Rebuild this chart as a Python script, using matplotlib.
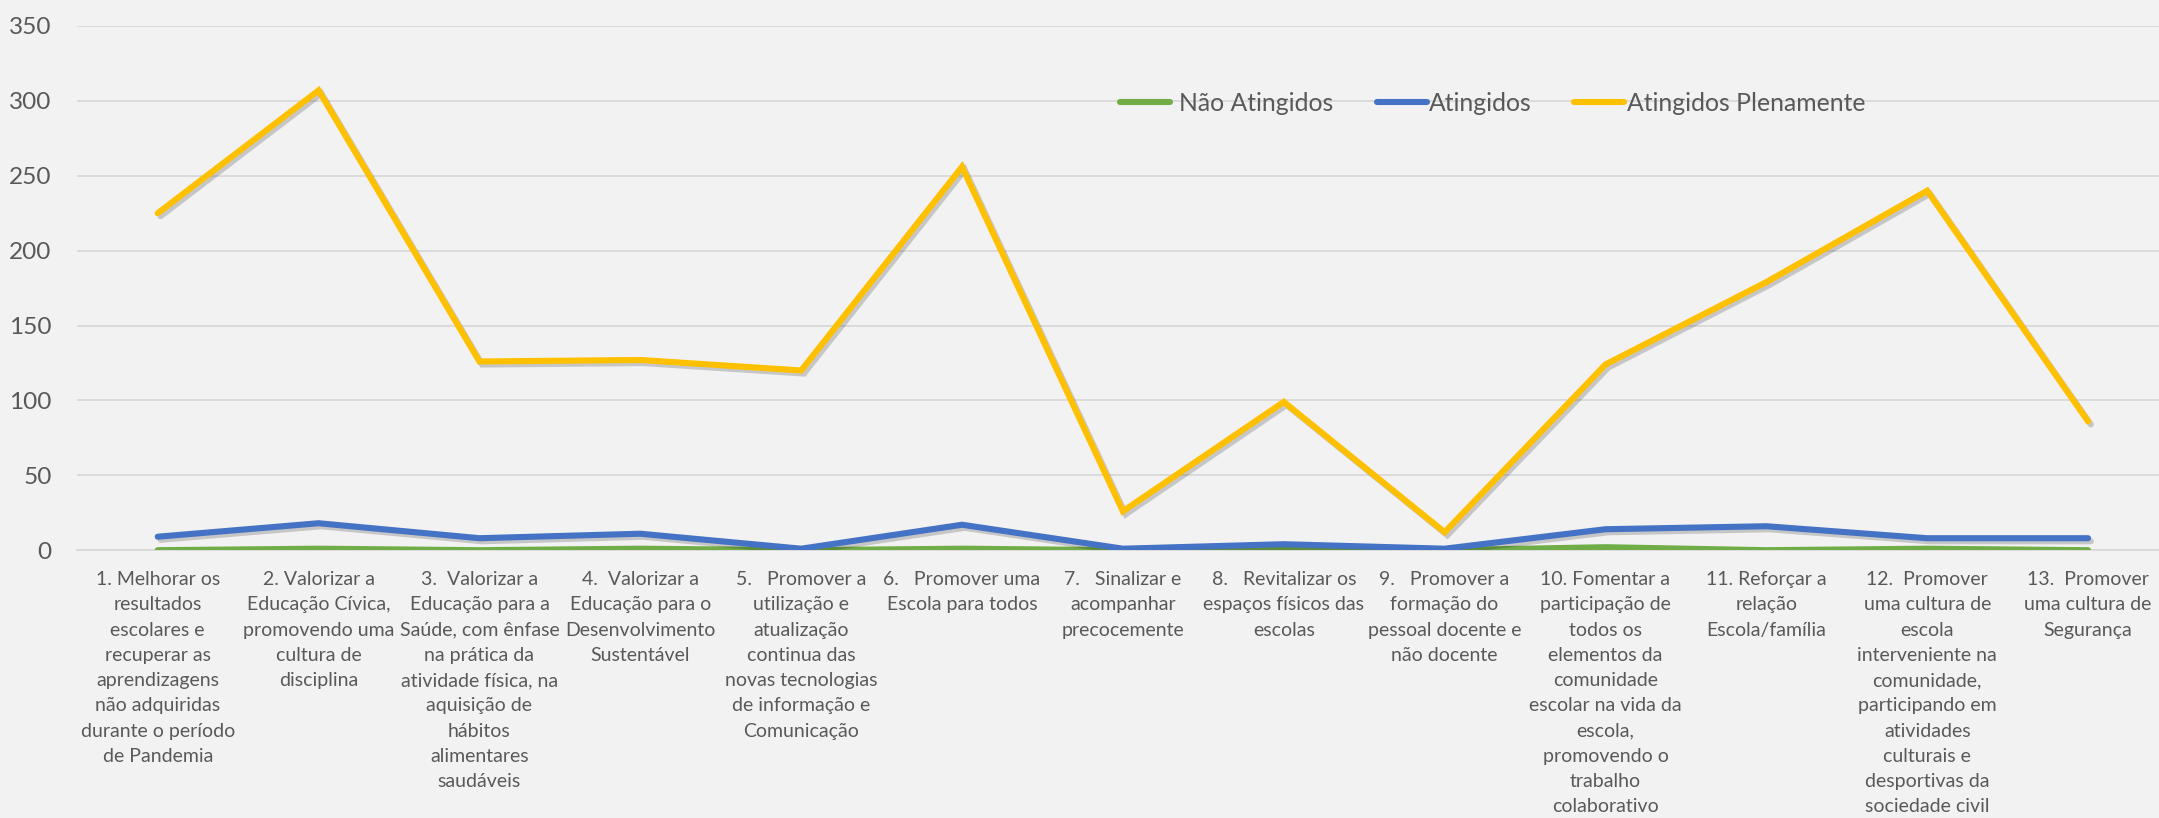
import matplotlib
matplotlib.use("Agg")
import matplotlib.pyplot as plt
import matplotlib.patheffects as pe
from matplotlib.lines import Line2D
import numpy as np

# ---------------- data ----------------
categories = [
    "1. Melhorar os\nresultados\nescolares e\nrecuperar as\naprendizagens\nnão adquiridas\ndurante o período\nde Pandemia",
    "2. Valorizar a\nEducação Cívica,\npromovendo uma\ncultura de\ndisciplina",
    "3.  Valorizar a\nEducação para a\nSaúde, com ênfase\nna prática da\natividade física, na\naquisição de\nhábitos\nalimentares\nsaudáveis",
    "4.  Valorizar a\nEducação para o\nDesenvolvimento\nSustentável",
    "5.   Promover a\nutilização e\natualização\ncontinua das\nnovas tecnologias\nde informação e\nComunicação",
    "6.   Promover uma\nEscola para todos",
    "7.   Sinalizar e\nacompanhar\nprecocemente",
    "8.   Revitalizar os\nespaços físicos das\nescolas",
    "9.   Promover a\nformação do\npessoal docente e\nnão docente",
    "10. Fomentar a\nparticipação de\ntodos os\nelementos da\ncomunidade\nescolar na vida da\nescola,\npromovendo o\ntrabalho\ncolaborativo",
    "11. Reforçar a\nrelação\nEscola/família",
    "12.  Promover\numa cultura de\nescola\ninterveniente na\ncomunidade,\nparticipando em\natividades\nculturais e\ndesportivas da\nsociedade civil",
    "13.  Promover\numa cultura de\nSegurança",
]
nao_atingidos = [0, 1, 0, 1, 0, 1, 0, 1, 0, 2, 0, 1, 0]
atingidos = [9, 18, 8, 11, 1, 17, 1, 4, 1, 14, 16, 8, 8]
atingidos_plenamente = [225, 307, 126, 127, 120, 256, 26, 99, 12, 124, 179, 240, 86]
series_names = ["Não Atingidos", "Atingidos", "Atingidos Plenamente"]
series_colors = ["#70AD47", "#4472C4", "#FFC000"]
y_ticks = [0, 50, 100, 150, 200, 250, 300, 350]

# ---------------- style ----------------
FONT = ["Lato", "DejaVu Sans"]
TXT = "#595959"
BG = "#F2F2F2"
GRID = "#D9D9D9"
plt.rcParams["font.family"] = FONT

W, H = 2159, 818
fig = plt.figure(figsize=(W / 100, H / 100), dpi=100, facecolor=BG)

x_left, x_right = 77.3, 2168.5
y_zero, y_top = 550.2, 26.0
ax = fig.add_axes([x_left / W, 1 - y_zero / H, (x_right - x_left) / W, (y_zero - y_top) / H])
ax.set_facecolor(BG)

x = np.arange(len(categories))
shadow = [pe.SimpleLineShadow(offset=(2.0, -2.2), shadow_color="black", alpha=0.18),
          pe.Normal()]
for vals, name, col in zip([nao_atingidos, atingidos, atingidos_plenamente],
                           series_names, series_colors):
    ax.plot(x, vals, color=col, lw=4.4, solid_capstyle="round",
            solid_joinstyle="miter", label=name, path_effects=shadow, zorder=3)

ax.set_xlim(-0.5, len(categories) - 0.5)
ax.set_ylim(0, 350)
ax.set_yticks(y_ticks)
ax.set_yticklabels([str(v) for v in y_ticks])
ax.yaxis.grid(True, color=GRID, lw=1.3, zorder=0)
ax.set_axisbelow(True)
for s in ["left", "right", "top"]:
    ax.spines[s].set_visible(False)
ax.spines["bottom"].set_color(GRID)
ax.spines["bottom"].set_linewidth(1.3)
ax.tick_params(axis="y", length=0, pad=18.5, labelsize=17.6, labelcolor=TXT)
ax.tick_params(axis="x", length=0, pad=15, labelsize=14, labelcolor=TXT)
ax.set_xticks(x)
ax.set_xticklabels(categories, linespacing=1.59, ha="center", multialignment="center")

# ---------------- legend (drawn in pixel positions) ----------------
leg_y = 1 - 101.7 / H
handle_x = [1120, 1377, 1574]
text_x = [1179, 1429, 1627]
for hx, tx, name, col in zip(handle_x, text_x, series_names, series_colors):
    fig.add_artist(Line2D([hx / W, (hx + 50) / W], [leg_y, leg_y], color=col, lw=4.4,
                          solid_capstyle="round", transform=fig.transFigure))
    fig.text(tx / W, leg_y, name, ha="left", va="center_baseline", fontsize=17.8, color=TXT)

fig.savefig("out.png", dpi=100, facecolor=BG)
